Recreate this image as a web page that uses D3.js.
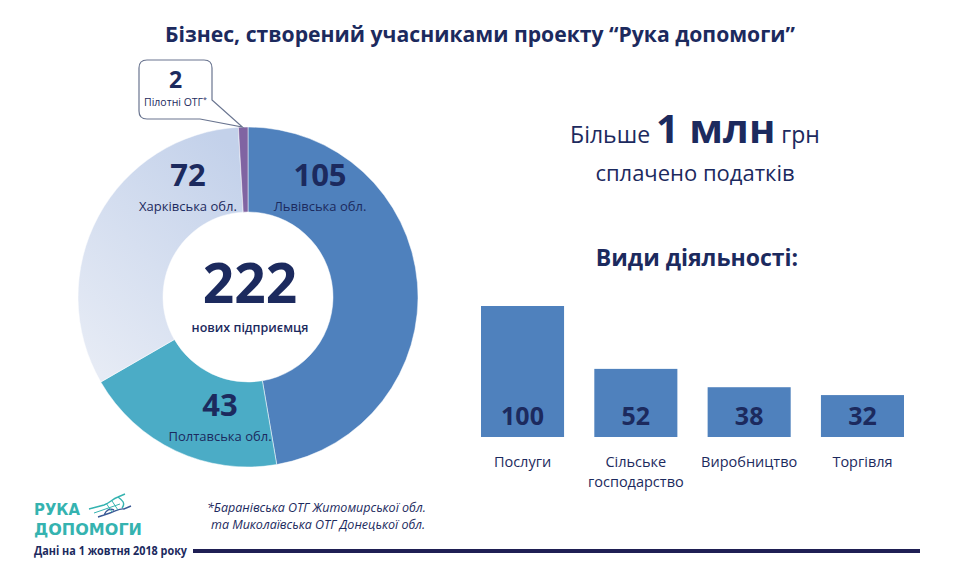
<!DOCTYPE html>
<html>
<head>
<meta charset="utf-8">
<script src="https://cdn.jsdelivr.net/npm/d3@7"></script>
<style>
  html, body { margin: 0; padding: 0; background: #fff; }
  svg text { font-family: "Open Sans", "Noto Sans", sans-serif; }
</style>
</head>
<body>
<div id="grafica"></div>
<script>
// дані кругової діаграми (за годинниковою стрілкою від 12 години)
const regions = ["Львівська обл.", "Полтавська обл.", "Харківська обл.", "Пілотні ОТГ*"];
const regionValues = [105, 43, 72, 2];
const regionColors = ["#4f81bd", "#4bacc6", "url(#gradKharkiv)", "#8064a2"];

// види діяльності
const activities = [["Послуги"], ["Сільське", "господарство"], ["Виробництво"], ["Торгівля"]];
const activityValues = [100, 52, 38, 32];

const navy = "#1c2a5e";

const svg = d3.select("#grafica")
    .append("svg")
    .attr("width", 960)
    .attr("height", 573);

const defs = svg.append("defs");
const grad = defs.append("linearGradient")
    .attr("id", "gradKharkiv")
    .attr("x1", "0.8").attr("y1", "0")
    .attr("x2", "0.2").attr("y2", "1");
grad.append("stop").attr("offset", "0%").attr("stop-color", "#c3d1ea");
grad.append("stop").attr("offset", "100%").attr("stop-color", "#e6ebf5");

// заголовок
svg.append("text")
    .attr("x", 480).attr("y", 42)
    .attr("text-anchor", "middle")
    .attr("textLength", 630)
    .attr("lengthAdjust", "spacingAndGlyphs")
    .style("font-size", "22px")
    .style("font-weight", "bold")
    .style("fill", navy)
    .text("Бізнес, створений учасниками проекту “Рука допомоги”");

// ---- кругова діаграма ----
const cx = 248, cy = 297, rOuter = 170, rInner = 85;
const total = d3.sum(regionValues);

const pie = d3.pie().sort(null).value(d => d)(regionValues);
const arc = d3.arc().innerRadius(rInner).outerRadius(rOuter);

const gPie = svg.append("g").attr("transform", `translate(${cx},${cy})`);
gPie.selectAll("path")
    .data(pie)
    .enter()
    .append("path")
    .attr("d", arc)
    .attr("fill", (d, i) => regionColors[i])
    .attr("stroke", "#fff")
    .attr("stroke-width", 0.5);

// підписи сегментів (зміщення вручну, як на слайді)
const labelPos = [[72, -104], [-28, 126], [-60, -104]];
labelPos.forEach((p, i) => {
    gPie.append("text")
        .attr("x", p[0]).attr("y", p[1] - 7)
        .attr("text-anchor", "middle")
        .style("font-size", "31px")
        .style("font-weight", "bold")
        .style("fill", navy)
        .text(regionValues[i]);
    gPie.append("text")
        .attr("x", p[0]).attr("y", p[1] + 18)
        .attr("text-anchor", "middle")
        .style("font-size", "13px")
        .style("fill", navy)
        .text(regions[i]);
});

// центр
gPie.append("text")
    .attr("x", 2).attr("y", 6)
    .attr("text-anchor", "middle")
    .style("font-size", "55px")
    .style("font-weight", "bold")
    .style("fill", navy)
    .text(total);
gPie.append("text")
    .attr("x", 2).attr("y", 35)
    .attr("text-anchor", "middle")
    .style("font-size", "12.5px")
    .style("font-weight", "600")
    .style("fill", navy)
    .text("нових підприємця");

// виноска для пілотних ОТГ
const tip = arc.centroid(pie[3]);
const bx = 139, by = 60, bw = 73, bh = 59;
svg.append("path")
    .attr("d", `M${bx + 8},${by} H${bx + bw - 8} Q${bx + bw},${by} ${bx + bw},${by + 8}
        V${by + 40} L${cx + tip[0] - 2},${cy - rOuter} L${bx + bw - 12},${by + bh}
        H${bx + 8} Q${bx},${by + bh} ${bx},${by + bh - 8} V${by + 8} Q${bx},${by} ${bx + 8},${by} Z`)
    .attr("fill", "#fff")
    .attr("stroke", "#6a7590")
    .attr("stroke-width", 1.2);
svg.append("text")
    .attr("x", bx + bw / 2).attr("y", by + 28)
    .attr("text-anchor", "middle")
    .style("font-size", "23px")
    .style("font-weight", "bold")
    .style("fill", navy)
    .text(regionValues[3]);
svg.append("text")
    .attr("x", bx + bw / 2).attr("y", by + 46)
    .attr("text-anchor", "middle")
    .style("font-size", "10.5px")
    .style("fill", navy)
    .text(regions[3].replace("*", ""))
    .append("tspan")
    .attr("dy", -4)
    .style("font-size", "7px")
    .text("*");

// ---- податки ----
const tax = svg.append("text")
    .attr("x", 695).attr("y", 143)
    .attr("text-anchor", "middle")
    .style("fill", navy);
tax.append("tspan").style("font-size", "23px").text("Більше ");
tax.append("tspan").style("font-size", "40px").style("font-weight", "bold").text("1 млн");
tax.append("tspan").style("font-size", "23px").text("  грн");

svg.append("text")
    .attr("x", 695).attr("y", 181)
    .attr("text-anchor", "middle")
    .style("font-size", "22px")
    .style("fill", navy)
    .text("сплачено податків");

svg.append("text")
    .attr("x", 697).attr("y", 266)
    .attr("text-anchor", "middle")
    .style("font-size", "23px")
    .style("font-weight", "bold")
    .style("fill", navy)
    .text("Види діяльності:");

// ---- стовпчики ----
const x = d3.scaleBand()
    .domain(d3.range(activityValues.length))
    .range([481, 904])
    .paddingInner(0.267)
    .paddingOuter(0);

const y = d3.scaleLinear()
    .domain([0, 100])
    .range([437, 306]);

const gBars = svg.append("g");
gBars.selectAll("rect")
    .data(activityValues)
    .enter()
    .append("rect")
    .attr("x", (d, i) => x(i))
    .attr("y", d => y(d))
    .attr("width", x.bandwidth())
    .attr("height", d => y(0) - y(d))
    .attr("fill", "#4f81bd");

gBars.selectAll("text.val")
    .data(activityValues)
    .enter()
    .append("text")
    .attr("class", "val")
    .attr("x", (d, i) => x(i) + x.bandwidth() / 2)
    .attr("y", y(0) - 12)
    .attr("text-anchor", "middle")
    .style("font-size", "25px")
    .style("font-weight", "bold")
    .style("fill", navy)
    .text(d => d);

activities.forEach((lines, i) => {
    const t = gBars.append("text")
        .attr("x", x(i) + x.bandwidth() / 2)
        .attr("y", 467)
        .attr("text-anchor", "middle")
        .style("font-size", "14.5px")
        .style("fill", navy);
    lines.forEach((l, j) => {
        t.append("tspan")
            .attr("x", x(i) + x.bandwidth() / 2)
            .attr("dy", j === 0 ? 0 : 20)
            .text(l);
    });
});

// ---- підвал ----
const teal = "#35b3b0";
svg.append("text")
    .attr("x", 34).attr("y", 515)
    .attr("textLength", 46)
    .attr("lengthAdjust", "spacingAndGlyphs")
    .style("font-family", "'DejaVu Sans', sans-serif")
    .style("font-size", "16.5px").style("font-weight", "bold").style("fill", teal)
    .text("РУКА");
svg.append("text")
    .attr("x", 34).attr("y", 535)
    .attr("textLength", 108)
    .attr("lengthAdjust", "spacingAndGlyphs")
    .style("font-family", "'DejaVu Sans', sans-serif")
    .style("font-size", "16.5px").style("font-weight", "bold").style("fill", teal)
    .text("ДОПОМОГИ");

// значок з руками
const logo = svg.append("g").attr("fill", "none").attr("stroke-width", 1.4);
logo.append("path")
    .attr("d", "M89,509 L104,505 C110,503 112,499 118,497 L125,494 M118,497 C122,500 126,503 122,508")
    .attr("stroke", teal);
logo.append("path")
    .attr("d", "M98,517 L110,513 C116,511 120,508 124,509 L131,506 M104,515 C106,510 110,508 114,510")
    .attr("stroke", "#3a5a96");
logo.append("path")
    .attr("d", "M94,513 L120,504 M106,503 L112,512 M112,501 L118,510")
    .attr("stroke", teal).attr("stroke-width", 1);

svg.append("text")
    .attr("x", 207).attr("y", 512)
    .style("font-size", "12.5px").style("font-style", "italic").style("fill", navy)
    .text("*Баранівська ОТГ Житомирської обл.");
svg.append("text")
    .attr("x", 211).attr("y", 529)
    .style("font-size", "12.5px").style("font-style", "italic").style("fill", navy)
    .text("та Миколаївська ОТГ Донецької обл.");

svg.append("text")
    .attr("x", 34).attr("y", 555)
    .attr("textLength", 153)
    .attr("lengthAdjust", "spacingAndGlyphs")
    .style("font-size", "11.5px").style("font-weight", "bold").style("fill", navy)
    .text("Дані на 1 жовтня 2018 року");

svg.append("line")
    .attr("x1", 193).attr("x2", 920)
    .attr("y1", 551).attr("y2", 551)
    .attr("stroke", "#1f1f54")
    .attr("stroke-width", 4);
</script>
</body>
</html>
